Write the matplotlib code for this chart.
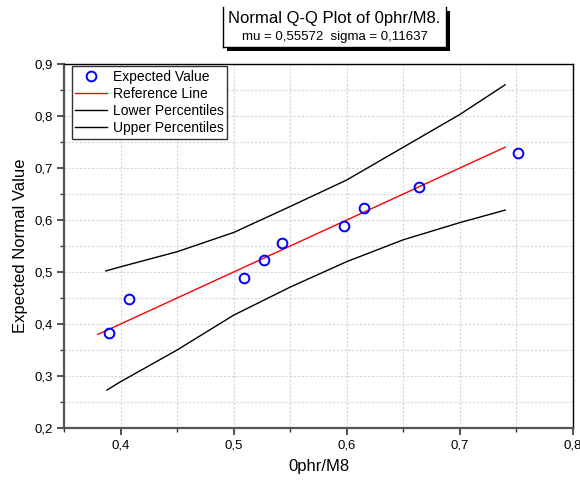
import matplotlib
matplotlib.use("Agg")
import matplotlib.pyplot as plt
from matplotlib.patches import Rectangle
from matplotlib.lines import Line2D
from matplotlib.ticker import MultipleLocator

plt.rcParams['font.family'] = ['Liberation Sans', 'DejaVu Sans']

# Data
obs_x = [0.3894, 0.4071, 0.5091, 0.5272, 0.5430, 0.5976, 0.6153, 0.6640, 0.7516]
exp_y = [0.382, 0.448, 0.489, 0.524, 0.556, 0.588, 0.623, 0.664, 0.729]
ref_x = [0.38, 0.74]
ref_y = [0.38, 0.74]
low_x = [0.388, 0.40, 0.45, 0.50, 0.55, 0.60, 0.65, 0.70, 0.74]
low_y = [0.273, 0.289, 0.350, 0.417, 0.471, 0.520, 0.562, 0.595, 0.619]
up_x = [0.387, 0.40, 0.45, 0.50, 0.55, 0.60, 0.65, 0.70, 0.740]
up_y = [0.502, 0.510, 0.539, 0.576, 0.626, 0.677, 0.740, 0.803, 0.860]
xticks = [0.4, 0.5, 0.6, 0.7, 0.8]
xticklabels = ["0,4", "0,5", "0,6", "0,7", "0,8"]
yticks = [0.2, 0.3, 0.4, 0.5, 0.6, 0.7, 0.8, 0.9]
yticklabels = ["0,2", "0,3", "0,4", "0,5", "0,6", "0,7", "0,8", "0,9"]
title = "Normal Q-Q Plot of 0phr/M8."
subtitle = "mu = 0,55572  sigma = 0,11637"

W, H = 580, 483
fig = plt.figure(figsize=(W / 100, H / 100), dpi=100)
ax = fig.add_axes([64 / W, 1 - 428 / H, (573 - 64) / W, (428 - 64) / H])

ax.plot(obs_x, exp_y, linestyle='none', marker='o', markersize=7, markerfacecolor='none',
        markeredgecolor='#0000ff', markeredgewidth=1.4, label='Expected Value', zorder=5)
ax.plot(ref_x, ref_y, color='#ff0000', lw=1.0, label='Reference Line', zorder=4)
ax.plot(low_x, low_y, color='black', lw=1.0, label='Lower Percentiles', zorder=4)
ax.plot(up_x, up_y, color='black', lw=1.0, label='Upper Percentiles', zorder=4)

ax.set_xlim(0.35, 0.8)
ax.set_ylim(0.2, 0.9)
ax.set_xticks(xticks)
ax.set_xticklabels(xticklabels, fontsize=9.5)
ax.set_yticks(yticks)
ax.set_yticklabels(yticklabels, fontsize=9.5)
ax.xaxis.set_minor_locator(MultipleLocator(0.05))
ax.yaxis.set_minor_locator(MultipleLocator(0.05))
ax.tick_params(which='major', direction='out', length=5, width=1.2, color='#333333', pad=3)
ax.tick_params(which='minor', direction='out', length=3, width=1.0, color='#333333')
ax.tick_params(top=False, right=False)

ax.grid(True, which='both', linestyle=(0, (2, 1.5)), color='#d6d6d6', lw=0.8)
ax.set_axisbelow(True)

for s in ['left', 'bottom']:
    ax.spines[s].set_linewidth(1.6)
    ax.spines[s].set_color('#555555')
for s in ['top', 'right']:
    ax.spines[s].set_linewidth(1.0)
    ax.spines[s].set_color('black')

ax.set_xlabel("0phr/M8", fontsize=12, labelpad=6)
ax.set_ylabel("Expected Normal Value", fontsize=12, labelpad=5)

leg = ax.legend(loc='upper left', bbox_to_anchor=(8 / 509, (428 - 66.5) / 364),
                borderaxespad=0, fontsize=10, frameon=True, fancybox=False,
                edgecolor='#333333', framealpha=1, handlelength=2.3, handletextpad=0.4,
                labelspacing=0.22, borderpad=0.25)
leg.get_frame().set_linewidth(1.0)

# Title box with shadow (pixel coordinates converted to figure fraction)
def fx(x):
    return x / W

def fy(y):
    return 1 - y / H

bl, br, bt, bb = 223, 446, 7, 47
off = 4
fig.add_artist(Rectangle((fx(bl + off), fy(bb + off)), fx(br - bl), (bb - bt) / H,
                         transform=fig.transFigure, facecolor='black', edgecolor='none'))
fig.add_artist(Rectangle((fx(bl), fy(bb)), fx(br - bl), (bb - bt) / H,
                         transform=fig.transFigure, facecolor='white', edgecolor='none'))
for xs, ys in [([bl, bl], [bt, bb]), ([br, br], [bt, bb]), ([bl, br], [bb, bb])]:
    fig.add_artist(Line2D([fx(v) for v in xs], [fy(v) for v in ys],
                          transform=fig.transFigure, color='black', lw=1.0))
fig.text(fx((bl + br) / 2), fy(18), title, fontsize=12, ha='center', va='center')
fig.text(fx((bl + br) / 2), fy(37), subtitle, fontsize=9.5, ha='center', va='center')

fig.savefig("out.png", dpi=100)
